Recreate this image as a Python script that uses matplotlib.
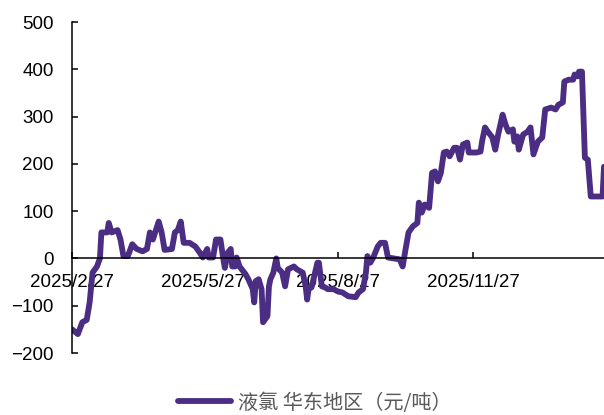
import pandas as pd
import matplotlib
matplotlib.use("Agg")
import matplotlib.pyplot as plt
import matplotlib.dates as mdates

# 液氯 华东地区 price (元/吨)
dates = [
    "2025-02-27", "2025-03-03", "2025-03-06", "2025-03-09", "2025-03-11", "2025-03-13",
    "2025-03-16", "2025-03-18", "2025-03-19", "2025-03-23", "2025-03-24", "2025-03-26",
    "2025-03-30", "2025-04-01", "2025-04-03", "2025-04-06", "2025-04-09", "2025-04-12",
    "2025-04-16", "2025-04-19", "2025-04-21", "2025-04-23", "2025-04-27", "2025-04-29",
    "2025-05-01", "2025-05-06", "2025-05-08", "2025-05-10", "2025-05-12", "2025-05-14",
    "2025-05-18", "2025-05-22", "2025-05-25", "2025-05-27", "2025-05-30", "2025-05-31",
    "2025-06-03", "2025-06-05", "2025-06-08", "2025-06-10", "2025-06-11", "2025-06-13",
    "2025-06-15", "2025-06-16", "2025-06-18", "2025-06-19", "2025-06-21", "2025-06-25",
    "2025-06-27", "2025-06-30", "2025-07-01", "2025-07-02", "2025-07-04", "2025-07-06",
    "2025-07-07", "2025-07-10", "2025-07-11", "2025-07-12", "2025-07-14", "2025-07-16",
    "2025-07-17", "2025-07-20", "2025-07-22", "2025-07-24", "2025-07-28", "2025-07-30",
    "2025-08-03", "2025-08-05", "2025-08-06", "2025-08-07", "2025-08-09", "2025-08-13",
    "2025-08-14", "2025-08-16", "2025-08-18", "2025-08-20", "2025-08-24", "2025-08-27",
    "2025-08-30", "2025-09-03", "2025-09-08", "2025-09-10", "2025-09-13", "2025-09-15",
    "2025-09-16", "2025-09-18", "2025-09-20", "2025-09-23", "2025-09-25", "2025-09-28",
    "2025-09-30", "2025-10-08", "2025-10-10", "2025-10-12", "2025-10-14", "2025-10-17",
    "2025-10-20", "2025-10-21", "2025-10-23", "2025-10-25", "2025-10-28", "2025-10-30",
    "2025-11-01", "2025-11-03", "2025-11-05", "2025-11-07", "2025-11-09", "2025-11-11",
    "2025-11-14", "2025-11-16", "2025-11-18", "2025-11-20", "2025-11-23", "2025-11-24",
    "2025-11-29", "2025-12-02", "2025-12-03", "2025-12-05", "2025-12-07", "2025-12-10",
    "2025-12-12", "2025-12-14", "2025-12-17", "2025-12-19", "2025-12-21", "2025-12-24",
    "2025-12-25", "2025-12-27", "2025-12-28", "2025-12-31", "2026-01-03", "2026-01-05",
    "2026-01-07", "2026-01-10", "2026-01-13", "2026-01-15", "2026-01-19", "2026-01-22",
    "2026-01-24", "2026-01-27", "2026-01-28", "2026-01-31", "2026-02-03", "2026-02-04",
    "2026-02-06", "2026-02-07", "2026-02-09", "2026-02-11", "2026-02-13", "2026-02-15",
    "2026-02-23", "2026-02-24",
]
prices = [
    -150, -160, -135, -130, -93, -30,
    -17, 0, 55, 55, 75, 55,
    60, 40, 5, 5, 30, 20,
    15, 20, 55, 40, 78, 55,
    18, 20, 55, 60, 78, 33,
    33, 25, 12, 2, 20, 2,
    2, 40, 40, -2, -20, 12,
    20, -17, -17, 2, -17, -33,
    -44, -65, -93, -48, -44, -65,
    -135, -122, -59, -44, -30, 0,
    -20, -30, -59, -23, -17, -23,
    -30, -59, -87, -65, -61, -9,
    -9, -59, -61, -65, -65, -70,
    -72, -80, -82, -72, -65, -30,
    5, -9, 2, 25, 33, 33,
    2, -2, -17, 20, 55, 68,
    75, 118, 97, 114, 107, 181,
    184, 163, 181, 224, 226, 216,
    234, 234, 209, 241, 245, 224,
    224, 226, 247, 277, 268, 256,
    230, 262, 304, 283, 268, 273,
    247, 258, 230, 262, 268, 277,
    220, 247, 256, 315, 319, 315,
    325, 330, 374, 378, 378, 389,
    385, 395, 395, 213, 209, 131,
    131, 194,
]
tick_dates = ["2025-02-27", "2025-05-27", "2025-08-27", "2025-11-27"]
tick_labels = ["2025/2/27", "2025/5/27", "2025/8/27", "2025/11/27"]
y_ticks = [-200, -100, 0, 100, 200, 300, 400, 500]
series_name = "液氯 华东地区（元/吨）"

x = pd.to_datetime(dates)

plt.rcParams['font.family'] = ['Liberation Sans', 'DejaVu Sans']

fig = plt.figure(figsize=(6.04, 4.15), dpi=100)
ax = fig.add_axes([72 / 604, 62 / 415, 1 - 72 / 604, 331 / 415])

line, = ax.plot(x, prices, color="#4b2d83", linewidth=4.2,
                solid_joinstyle="round", solid_capstyle="round")

ax.set_xlim(x[0], x[-1])
ax.set_ylim(-200, 500)
ax.set_yticks(y_ticks)
ax.set_xticks(pd.to_datetime(tick_dates))
ax.set_xticklabels(tick_labels)

ax.spines['top'].set_visible(False)
ax.spines['right'].set_visible(False)
ax.spines['bottom'].set_position(('data', 0))
ax.spines['bottom'].set_linewidth(1.1)
ax.spines['left'].set_linewidth(1.1)

ax.tick_params(axis='both', direction='in', length=4.5, width=1.1,
               labelsize=13.5, colors='black')
ax.tick_params(axis='x', pad=11)
ax.tick_params(axis='y', pad=13)

leg = fig.legend([line], [series_name], loc='center',
                 bbox_to_anchor=(315 / 604, 12 / 415), frameon=False,
                 handlelength=2.6, handletextpad=0.35,
                 prop={'family': ['Noto Sans CJK SC', 'DejaVu Sans'], 'size': 14.5})
for t in leg.get_texts():
    t.set_color("#595959")

fig.savefig("out.png", dpi=100)
